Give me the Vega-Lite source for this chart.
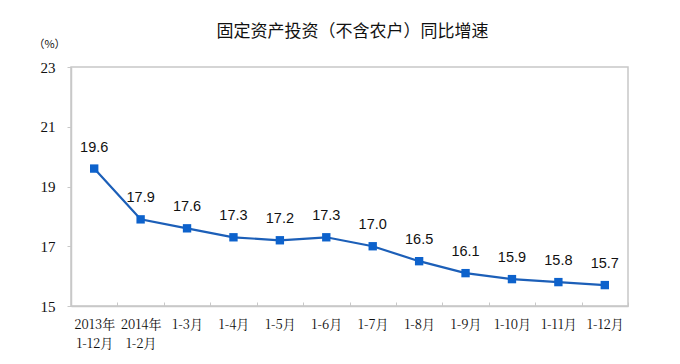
{
  "$schema": "https://vega.github.io/schema/vega-lite/v6.json",
  "autosize": {"type": "none"},
  "width": 557,
  "height": 239,
  "padding": {"left": 71, "top": 67, "right": 52, "bottom": 58},
  "background": "white",
  "title": {
    "text": "固定资产投资（不含农户）同比增速",
    "font": "Noto Sans CJK SC",
    "fontSize": 17,
    "fontWeight": "normal",
    "color": "#111",
    "anchor": "middle",
    "dx": 3,
    "offset": -3
  },
  "config": {
    "view": {"stroke": "#c8c8c8", "strokeWidth": 1.5}
  },
  "data": {
    "values": [
      {"period": "2013年\n1-12月", "value": 19.6},
      {"period": "2014年\n1-2月", "value": 17.9},
      {"period": "1-3月", "value": 17.6},
      {"period": "1-4月", "value": 17.3},
      {"period": "1-5月", "value": 17.2},
      {"period": "1-6月", "value": 17.3},
      {"period": "1-7月", "value": 17.0},
      {"period": "1-8月", "value": 16.5},
      {"period": "1-9月", "value": 16.1},
      {"period": "1-10月", "value": 15.9},
      {"period": "1-11月", "value": 15.8},
      {"period": "1-12月", "value": 15.7}
    ]
  },
  "encoding": {
    "x": {
      "field": "period",
      "type": "nominal",
      "sort": null,
      "scale": {"type": "band", "paddingInner": 0, "paddingOuter": 0},
      "axis": {
        "title": null,
        "labelAngle": 0,
        "labelExpr": "split(datum.label, '\\n')",
        "labelFont": "Noto Serif CJK SC, Liberation Serif, serif",
        "labelFontSize": 13,
        "labelColor": "#111",
        "labelLineHeight": 19,
        "labelPadding": 16,
        "labelBaseline": "top",
        "tickBand": "extent",
        "tickSize": -4,
        "tickColor": "#c8c8c8",
        "domainColor": "#c8c8c8",
        "domainWidth": 1.5
      }
    },
    "y": {
      "field": "value",
      "type": "quantitative",
      "scale": {"domain": [15, 23], "nice": false, "zero": false},
      "axis": {
        "values": [15, 17, 19, 21, 23],
        "grid": false,
        "title": "（%）",
        "titleAngle": 0,
        "titleX": -22,
        "titleY": -23,
        "titleAlign": "center",
        "titleBaseline": "middle",
        "titleFont": "Noto Sans CJK SC",
        "titleFontSize": 11,
        "titleFontWeight": "normal",
        "titleColor": "#111",
        "labelFont": "Liberation Serif",
        "labelFontSize": 15,
        "labelColor": "#111",
        "labelPadding": 12,
        "tickSize": 4,
        "tickColor": "#c8c8c8",
        "domainColor": "#c8c8c8",
        "domainWidth": 1.5
      }
    }
  },
  "layer": [
    {"mark": {"type": "line", "color": "#1c5fb8", "strokeWidth": 2.2}},
    {"mark": {"type": "point", "shape": "square", "filled": true, "size": 70, "color": "#0d62cc", "opacity": 1}},
    {
      "mark": {"type": "text", "dy": -21, "font": "Liberation Sans", "fontSize": 14.5, "color": "#111"},
      "encoding": {"text": {"field": "value", "type": "quantitative", "format": ".1f"}}
    }
  ]
}
